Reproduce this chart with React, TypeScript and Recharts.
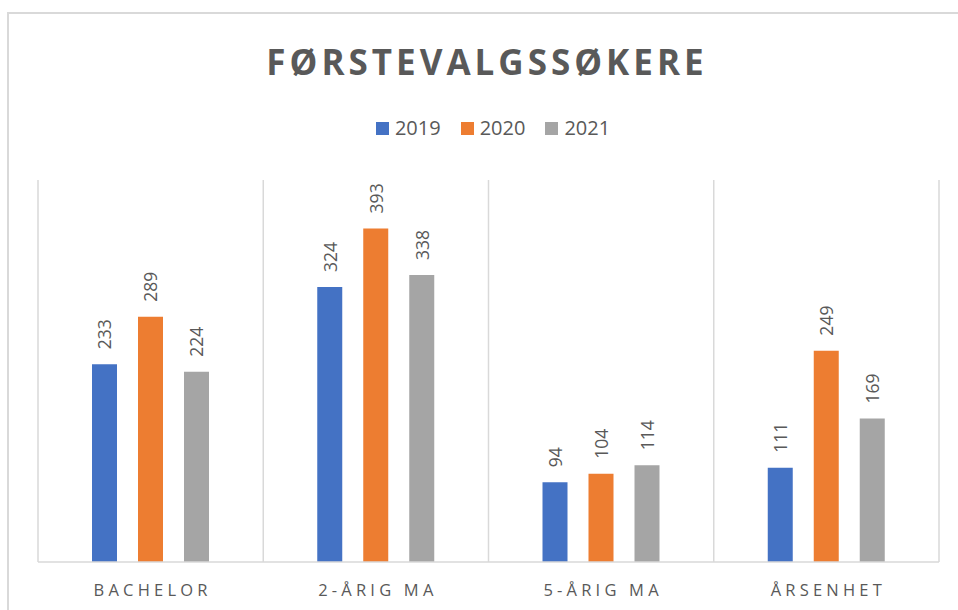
import React from "react";
import { BarChart, Bar, XAxis, YAxis, CartesianGrid, LabelList } from "recharts";

const categories = ["BACHELOR", "2-ÅRIG MA", "5-ÅRIG MA", "ÅRSENHET"];
const values2019 = [233, 324, 94, 111];
const values2020 = [289, 393, 104, 249];
const values2021 = [224, 338, 114, 169];
const seriesNames = ["2019", "2020", "2021"];
const seriesColors = ["#4472C4", "#ED7D31", "#A5A5A5"];
const title = "FØRSTEVALGSSØKERE";

const data = categories.map((c, i) => ({
  name: c,
  s2019: values2019[i],
  s2020: values2020[i],
  s2021: values2021[i],
}));
const keys = ["s2019", "s2020", "s2021"];

const FONT = "'Open Sans', 'DejaVu Sans', sans-serif";
const TEXT = "#595959";

const RotLabel = (props: any) => {
  const { x, y, width, value } = props;
  const cx = x + width / 2;
  const ty = y - 15;
  return (
    <text
      x={cx}
      y={ty}
      transform={`rotate(-90, ${cx}, ${ty})`}
      textAnchor="start"
      dominantBaseline="central"
      fill={TEXT}
      fontSize={17.5}
      fontFamily={FONT}
    >
      {value}
    </text>
  );
};

const Tick = (props: any) => {
  const { x, y, payload } = props;
  return (
    <text
      x={x + 2}
      y={y + 26}
      textAnchor="middle"
      fill={TEXT}
      fontSize={16.5}
      fontFamily={FONT}
      letterSpacing={4.2}
    >
      {payload.value}
    </text>
  );
};

export default function App() {
  return (
    <div
      style={{
        position: "fixed",
        left: 0,
        top: 0,
        width: 958,
        height: 610,
        overflow: "hidden",
        background: "#fff",
      }}
    >
      <div
        style={{
          position: "absolute",
          left: 7,
          top: 12,
          width: 1000,
          height: 700,
          border: "2px solid #D9D9D9",
          boxSizing: "border-box",
        }}
      />
      <div
        style={{
          position: "absolute",
          left: 0,
          top: 38,
          width: 974,
          textAlign: "center",
          fontFamily: FONT,
          fontWeight: 700,
          fontSize: 35,
          letterSpacing: 4,
          color: TEXT,
          lineHeight: "48px",
        }}
      >
        {title}
      </div>
      <div
        style={{
          position: "absolute",
          left: 0,
          top: 114,
          width: 958,
          display: "flex",
          justifyContent: "center",
          gap: 20,
          fontFamily: FONT,
          fontSize: 20,
          color: TEXT,
          lineHeight: "28px",
          paddingLeft: 28,
          boxSizing: "border-box",
        }}
      >
        {seriesNames.map((n, i) => (
          <div key={n} style={{ display: "flex", alignItems: "center" }}>
            <span
              style={{
                display: "inline-block",
                width: 13,
                height: 13,
                background: seriesColors[i],
                marginRight: 6,
              }}
            />
            <span>{n}</span>
          </div>
        ))}
      </div>
      <div style={{ position: "absolute", left: 0, top: 0 }}>
        <BarChart
          width={958}
          height={610}
          data={data}
          margin={{ top: 180, right: 19, left: 38, bottom: 8 }}
          barSize={25}
          barGap={21}
        >
          <CartesianGrid
            horizontal={false}
            vertical={true}
            stroke="#D9D9D9"
            strokeWidth={1.5}
            verticalCoordinatesGenerator={({ offset }: any) =>
              [0, 1, 2, 3, 4].map((i) => offset.left + (i * offset.width) / 4)
            }
          />
          <XAxis
            dataKey="name"
            height={40}
            tickLine={false}
            axisLine={{ stroke: "#D9D9D9", strokeWidth: 1.5 }}
            tick={<Tick />}
            interval={0}
          />
          <YAxis hide domain={[0, 450]} />
          {keys.map((k, i) => (
            <Bar key={k} dataKey={k} name={seriesNames[i]} fill={seriesColors[i]} isAnimationActive={false}>
              <LabelList dataKey={k} content={<RotLabel />} />
            </Bar>
          ))}
        </BarChart>
      </div>
    </div>
  );
}
